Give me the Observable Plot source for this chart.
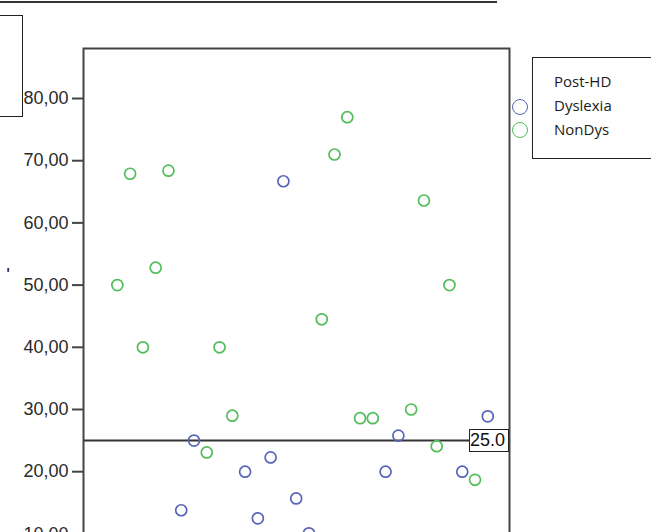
<!DOCTYPE html>
<html>
<head>
<meta charset="utf-8">
<script src="https://cdn.jsdelivr.net/npm/d3@7"></script>
<script src="https://cdn.jsdelivr.net/npm/@observablehq/plot@0.6"></script>
<style>
  html, body { margin: 0; padding: 0; background: #fff; overflow: hidden; }
  #wrap { position: relative; width: 651px; height: 532px; overflow: hidden; background: #fff; }
  #chart { position: absolute; left: 0; top: 0; }
  .abs { position: absolute; box-sizing: border-box; }
  #topline { left: 0; top: 1px; width: 497px; height: 2px; background: #333; }
  #leftbox { left: -4px; top: 15px; width: 27px; height: 102px; border: 1.5px solid #222; }
  #legend { left: 532px; top: 57px; width: 140px; height: 102px; border: 1.5px solid #222;
            font-family: "Open Sans", "Noto Sans", sans-serif; font-size: 15px; color: #1a1a1a; }
  #legend div { position: absolute; left: 21px; }
  .lc { width: 16px; height: 16px; border-radius: 50%; border: 1.7px solid; box-sizing: border-box; }
  #reflabel { left: 469px; top: 429px; width: 40px; height: 23px; border: 1.5px solid #222; background: #fff;
              font-family: "Liberation Sans", Arial, sans-serif; font-size: 18px; line-height: 20px; color: #111; padding-left: 0px; }
  #quote { left: 6px; top: 265px; font-family: "DejaVu Sans", sans-serif; font-weight: bold; font-size: 14px; color: #222; }
</style>
</head>
<body>
<div id="wrap">
  <div id="chart"></div>
</div>
<script>
// Participant index (x position) and score per group
const groups = ["Dyslexia", "NonDys"];
const legendTitle = "Post-HD";
const groupColors = ["#5864b8", "#52bd5a"];
const nonDysIdx   = [1, 2, 3, 4, 5, 8, 9, 10, 17, 18, 19, 20, 21, 24, 25, 26, 27, 29];
const nonDysScore = [50, 67.9, 40, 52.8, 68.4, 23.1, 40, 29, 44.5, 71, 77, 28.6, 28.6, 30, 63.6, 24.1, 50, 18.7];
const dysIdx      = [6, 7, 11, 12, 13, 14, 15, 16, 22, 23, 28, 30];
const dysScore    = [13.8, 25, 20, 12.5, 22.3, 66.7, 15.7, 10.1, 20, 25.8, 20, 28.9];
const yTicks = [10, 20, 30, 40, 50, 60, 70, 80];
const refValue = 25;

const data = [
  ...dysIdx.map((x, i) => ({idx: x, score: dysScore[i], group: groups[0]})),
  ...nonDysIdx.map((x, i) => ({idx: x, score: nonDysScore[i], group: groups[1]}))
];

const fmt = d => d.toFixed(2).replace(".", ",");
const xDomain = [-1.65, 31.7];
const chart = Plot.plot({
  width: 651,
  height: 580,
  marginLeft: 83,
  marginRight: 142,
  marginTop: 48,
  marginBottom: 16,
  style: { fontFamily: "'Liberation Sans', Arial, sans-serif", background: "transparent", color: "#333" },
  x: { domain: xDomain, axis: null },
  y: { domain: [5.08, 88.04], axis: null },
  color: { domain: groups, range: groupColors },
  marks: [
    Plot.axisY({ ticks: yTicks, tickFormat: fmt, tickSize: 11, tickPadding: 4,
                 fontSize: 18, stroke: "#444", strokeWidth: 2, fill: "#2a2a2a", label: null }),
    Plot.ruleY([refValue], { stroke: "#333", strokeWidth: 2 }),
    Plot.dot(data, { x: "idx", y: "score", stroke: "group", r: 5.5, strokeWidth: 1.7, fill: "none" }),
    Plot.frame({ stroke: "#444", strokeWidth: 2 })
  ]
});
document.getElementById("chart").appendChild(chart);

const wrap = document.getElementById("wrap");
function add(id, html) {
  const d = document.createElement("div");
  d.id = id; d.className = "abs"; d.innerHTML = html || "";
  wrap.appendChild(d);
  return d;
}
add("topline");
add("leftbox");
add("quote", "'");
const leg = add("legend");
[legendTitle, ...groups].forEach((t, i) => {
  const l = document.createElement("div");
  l.textContent = t;
  l.style.top = (13 + i * 24) + "px";
  leg.appendChild(l);
});
groups.forEach((g, i) => {
  const c = document.createElement("div");
  c.className = "abs lc";
  c.style.left = "512px";
  c.style.top = (99 + i * 23) + "px";
  c.style.borderColor = groupColors[i];
  wrap.appendChild(c);
});
add("reflabel", refValue.toFixed(1));
</script>
</body>
</html>
